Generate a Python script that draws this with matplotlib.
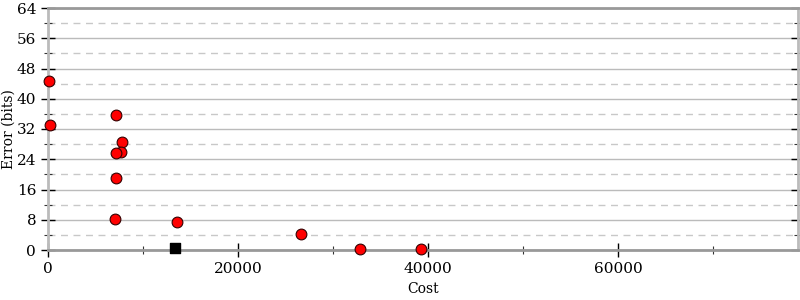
import matplotlib.pyplot as plt
from matplotlib.ticker import MultipleLocator

# data
cost = [100, 200, 7160, 7790, 7680, 7160, 7160, 7050, 13580, 26630, 32840, 39260]
error = [44.6, 33.0, 35.7, 28.6, 25.9, 25.7, 19.0, 8.2, 7.4, 4.2, 0.3, 0.2]
best_cost = [13370]
best_error = [0.4]

plt.rcParams['font.family'] = ['DejaVu Serif']
plt.rcParams['font.size'] = 10

fig = plt.figure(figsize=(8, 3), dpi=100)
ax = fig.add_axes([48 / 800, 50 / 300, 750 / 800, 242 / 300])

ax.set_xlim(0, 78950)
ax.set_ylim(0, 64)

ax.xaxis.set_major_locator(MultipleLocator(20000))
ax.xaxis.set_minor_locator(MultipleLocator(10000))
ax.yaxis.set_major_locator(MultipleLocator(8))
ax.yaxis.set_minor_locator(MultipleLocator(4))

ax.grid(True, which='major', axis='y', color='#bbbbbb', lw=1, ls='-')
ax.grid(True, which='minor', axis='y', color='#c8c8c8', lw=1, ls=(0, (5, 4)))
ax.set_axisbelow(True)

for side in ['left', 'right']:
    ax.spines[side].set_color('#bbbbbb')
    ax.spines[side].set_linewidth(2)
for side in ['top', 'bottom']:
    ax.spines[side].set_color('#999999')
    ax.spines[side].set_linewidth(2)

ax.tick_params(which='major', direction='inout', length=10, width=1, color='black',
               right=True, top=False, labelsize=11)
ax.tick_params(which='minor', direction='inout', length=6, width=0.8, color='#333333',
               right=True, top=False)

ax.scatter(cost, error, s=60, c='red', edgecolors='#330000', linewidths=0.8, zorder=3,
           clip_on=False)
ax.scatter(best_cost, best_error, s=60, c='black', marker='s', zorder=3, clip_on=False)

ax.set_xlabel('Cost', fontsize=10, va='center')
ax.set_ylabel('Error (bits)', fontsize=10, va='center')
ax.xaxis.set_label_coords(0.5, -39 / 242)
ax.yaxis.set_label_coords(-39 / 750, 0.5)

fig.savefig('out.png', dpi=100)
